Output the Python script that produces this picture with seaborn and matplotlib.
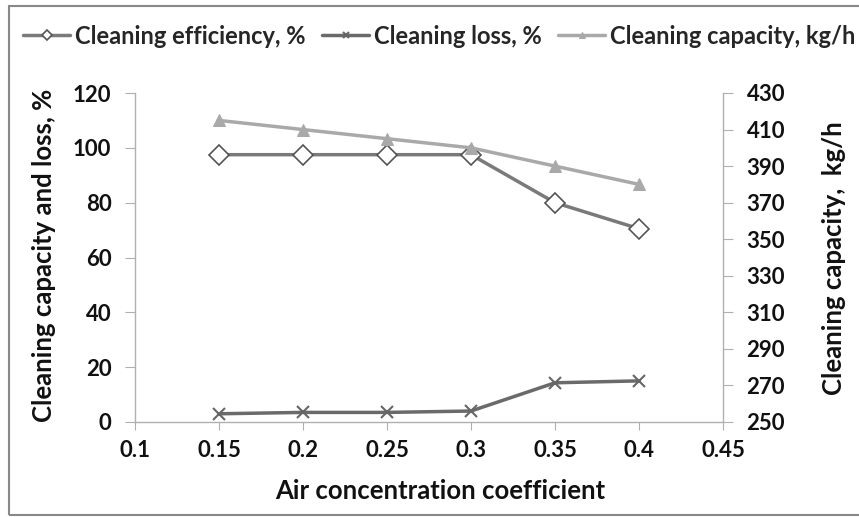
import matplotlib
matplotlib.use("Agg")
import matplotlib.pyplot as plt
import seaborn as sns
import pandas as pd
from matplotlib.patches import Rectangle

x_vals = [0.15, 0.2, 0.25, 0.3, 0.35, 0.4]
efficiency = [97.5, 97.5, 97.5, 97.5, 80.0, 70.5]
loss = [3.0, 3.5, 3.5, 4.0, 14.3, 15.0]
capacity = [415, 410, 405, 400, 390, 380]

left_ticks = [0, 20, 40, 60, 80, 100, 120]
right_ticks = [250, 270, 290, 310, 330, 350, 370, 390, 410, 430]
x_ticks = [0.1, 0.15, 0.2, 0.25, 0.3, 0.35, 0.4, 0.45]
x_ticklabels = ["0.1", "0.15", "0.2", "0.25", "0.3", "0.35", "0.4", "0.45"]

sns.set_theme(style="white")
plt.rcParams['font.family'] = ['Lato', 'DejaVu Sans']
plt.rcParams['font.weight'] = 'bold'

W, H = 859, 517
df = pd.DataFrame({"x": x_vals, "eff": efficiency, "loss": loss, "cap": capacity})

fig = plt.figure(figsize=(8.59, 5.17), dpi=100)
L, R, T, B = 135, 723, 93, 422
ax = fig.add_axes([L/W, 1-B/H, (R-L)/W, (B-T)/H])
ax2 = ax.twinx()

c_eff = "#7a7a7a"
c_loss = "#6a6a6a"
c_cap = "#a9a9a9"

sns.lineplot(data=df, x="x", y="eff", ax=ax, color=c_eff, lw=2.5, marker="D",
             markersize=10, markerfacecolor="white", markeredgecolor="#555555",
             markeredgewidth=1.2, label="Cleaning efficiency, %", legend=False)
sns.lineplot(data=df, x="x", y="loss", ax=ax, color=c_loss, lw=2.5, marker="x",
             markersize=9, markeredgecolor="#666666", markeredgewidth=1.5,
             label="Cleaning loss, %", legend=False)
sns.lineplot(data=df, x="x", y="cap", ax=ax2, color=c_cap, lw=2.5, marker="^",
             markersize=9, markeredgecolor=c_cap, markerfacecolor=c_cap,
             label="Cleaning capacity, kg/h", legend=False)

ax.set_xlim(0.1, 0.45)
ax.set_ylim(0, 120)
ax2.set_ylim(250, 430)
ax.set_xticks(x_ticks)
ax.set_xticklabels(x_ticklabels)
ax.set_yticks(left_ticks)
ax2.set_yticks(right_ticks)

for a in (ax, ax2):
    for s in a.spines.values():
        s.set_visible(False)
ax.spines['left'].set_visible(True)
ax.spines['bottom'].set_visible(True)
ax2.spines['right'].set_visible(True)
for s in (ax.spines['left'], ax.spines['bottom'], ax2.spines['right']):
    s.set_color("#b0b0b0")
    s.set_linewidth(1.0)

tick_kw = dict(direction='out', width=0.8, color="#b0b0b0", labelsize=16, labelcolor="#111111")
ax.tick_params(axis='y', left=True, length=7, pad=10, **tick_kw)
ax.tick_params(axis='x', bottom=True, length=6, pad=7, **tick_kw)
ax2.tick_params(axis='y', right=True, length=7, pad=10, **tick_kw)
for lab in ax.get_xticklabels() + ax.get_yticklabels() + ax2.get_yticklabels():
    lab.set_fontweight('bold')

lab_kw = dict(fontsize=18.5, fontweight='bold', color="#111111")
ax.set_xlabel("Air concentration coefficient", **lab_kw)
ax.set_ylabel("Cleaning capacity and loss, %", **lab_kw)
ax2.set_ylabel("Cleaning capacity,  kg/h", **lab_kw)
ax.xaxis.set_label_coords(((272 + 608) / 2 - L) / (R - L), (B - 479) / (B - T))
ax.yaxis.set_label_coords((56 - L) / (R - L), (B - (88 + 423) / 2) / (B - T))
ax2.yaxis.set_label_coords((822 - L) / (R - L), (B - (112 + 405) / 2) / (B - T))

h1, l1 = ax.get_legend_handles_labels()
h2, l2 = ax2.get_legend_handles_labels()
fig.legend(h1 + h2, l1 + l2, loc='center left', bbox_to_anchor=(23/W, 1 - 36/H), ncol=3,
           frameon=False, handlelength=2.0, handletextpad=0.2, markerscale=0.5,
           columnspacing=0.7, borderaxespad=0, borderpad=0,
           prop={'weight': 'bold', 'size': 17})

fig.patches.append(Rectangle((9/W, 2/H), 1.0, 1 - 8/H, transform=fig.transFigure,
                             fill=False, edgecolor="#888888", linewidth=1.5))

fig.savefig("out.png", dpi=100)
